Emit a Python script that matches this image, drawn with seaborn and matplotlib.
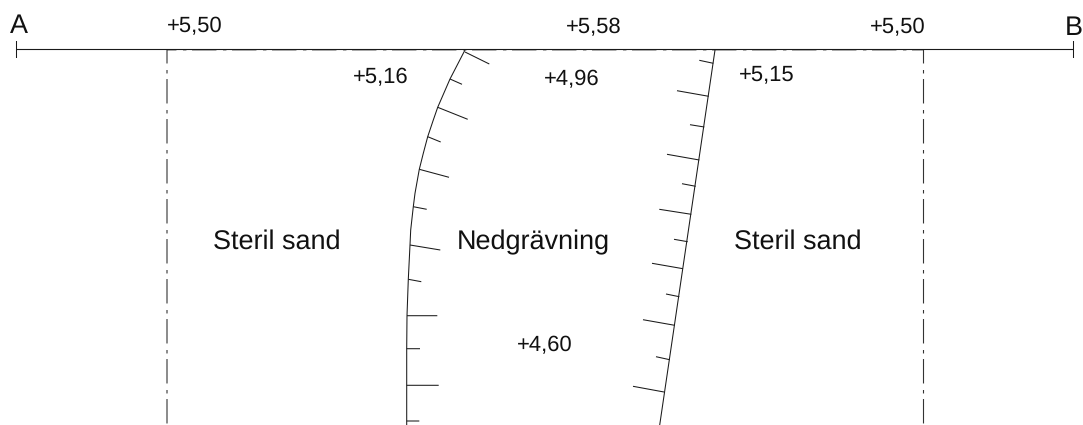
import pandas as pd
import seaborn as sns
import matplotlib
matplotlib.use("Agg")
import matplotlib.pyplot as plt

# Section line A-B
section_x = [16, 1073.5]
section_y = [49.5, 49.5]
end_tick_x = [16.5, 1073.5]
end_tick_y = [41, 58]

# Dash-dot limits of the sterile sand
limit_x = [167, 923.5]
limit_top = 50
limit_bottom = 425

# Left edge of the pit
left_x = [465, 450, 437.7, 433.3, 427.7, 423.3, 419.3, 415, 413.3, 410.7, 410, 408.3, 407, 406.7, 406.7, 406.7, 406.7]
left_y = [50, 79, 107.3, 120, 136.7, 153.3, 169.3, 193.3, 206.7, 230, 245, 279.3, 315.7, 348.7, 385.3, 421, 425]
left_hatch_x0 = [465, 450, 437.7, 427.7, 419.3, 413.3, 410, 408.3, 407, 406.7, 406.7, 406.7]
left_hatch_y0 = [52, 79, 107.3, 136.7, 169.3, 206.7, 245, 279.3, 315.7, 348.7, 385.3, 421]
left_hatch_x1 = [489.3, 462, 467.7, 440.7, 449, 426.7, 440.3, 421.3, 437.3, 420, 438.7, 419.3]
left_hatch_y1 = [64, 84.3, 119.3, 142, 177.3, 209.3, 250, 281.7, 315.7, 348.7, 385.3, 421]

# Right edge of the pit
right_x = [715, 659.7]
right_y = [50, 425]
right_hatch_x0 = [713.3, 708.7, 704.3, 699.3, 695.7, 691.3, 687.7, 683, 679.3, 674.7, 669.7, 664]
right_hatch_y0 = [63.3, 96.3, 127, 160, 186.3, 214.3, 241.7, 268.7, 296.7, 325.3, 359.7, 392]
right_hatch_x1 = [699.3, 677, 690, 667, 682, 659.3, 674, 652, 666, 643, 656, 633]
right_hatch_y1 = [60.3, 90.7, 124.7, 154.3, 183.7, 209.3, 239.3, 263.3, 294, 319.7, 356.7, 386.3]

# Texts
big_labels = ["A", "B", "Steril sand", "Nedgrävning", "Steril sand"]
big_x = [10, 1065, 213, 457, 734]
big_y = [33, 35, 249, 249, 249]
level_labels = ["+5,50", "+5,58", "+5,50", "+5,16", "+4,96", "+5,15", "+4,60"]
level_x = [167, 566, 870, 352.5, 543.5, 739, 517]
level_y = [32.5, 33.5, 33.5, 83, 85, 80, 351.5]

sns.set_theme(style="white", rc={"lines.scale_dashes": False, "lines.solid_capstyle": "butt",
                                 "text.hinting": "none", "text.hinting_factor": 1})
plt.rcParams["font.family"] = ["Liberation Sans", "DejaVu Sans"]

fig = plt.figure(figsize=(10.83, 4.25), dpi=100, facecolor="white")
ax = fig.add_axes([0, 0, 1, 1])


def hatch_frame(x0, y0, x1, y1):
    rows = []
    for i in range(len(x0)):
        rows.append({"tick": i, "x": x0[i], "y": y0[i]})
        rows.append({"tick": i, "x": x1[i], "y": y1[i]})
    return pd.DataFrame(rows)


def draw(x, y, lw=0.75, color="#1a1a1a", **kw):
    sns.lineplot(x=x, y=y, estimator=None, sort=False, color=color, linewidth=lw, ax=ax,
                 legend=False, snap=False, **kw)


# dash-dot pattern, in points (1 px = 0.72 pt)
dash = (17.6, 4.7, 2.5, 4.0)

# section line with the faint dash-dot one just under it
draw(limit_x, [50.5, 50.5], lw=0.7, color="#b0b0b0", linestyle=(10.8, dash))
draw(section_x, section_y, lw=0.8)
for x in end_tick_x:
    draw([x, x], end_tick_y, lw=0.75)

for x in limit_x:
    draw([x, x], [limit_top, limit_bottom], lw=0.8, color="#333333", linestyle=(7.9, dash))

draw(left_x, left_y)
draw(right_x, right_y)

for frame in [hatch_frame(left_hatch_x0, left_hatch_y0, left_hatch_x1, left_hatch_y1),
              hatch_frame(right_hatch_x0, right_hatch_y0, right_hatch_x1, right_hatch_y1)]:
    sns.lineplot(data=frame, x="x", y="y", units="tick", estimator=None, sort=False,
                 color="#1a1a1a", linewidth=0.75, ax=ax, legend=False, snap=False)

for lab, x, y in zip(big_labels, big_x, big_y):
    ax.text(x, y, lab, fontsize=19.3, color="#111111", ha="left", va="baseline")
for lab, x, y in zip(level_labels, level_x, level_y):
    ax.text(x, y, lab, fontsize=15.6, color="#111111", ha="left", va="baseline")

ax.set_xlim(0, 1083)
ax.set_ylim(425, 0)
ax.axis("off")

fig.savefig("out.png", dpi=100, facecolor="white")
